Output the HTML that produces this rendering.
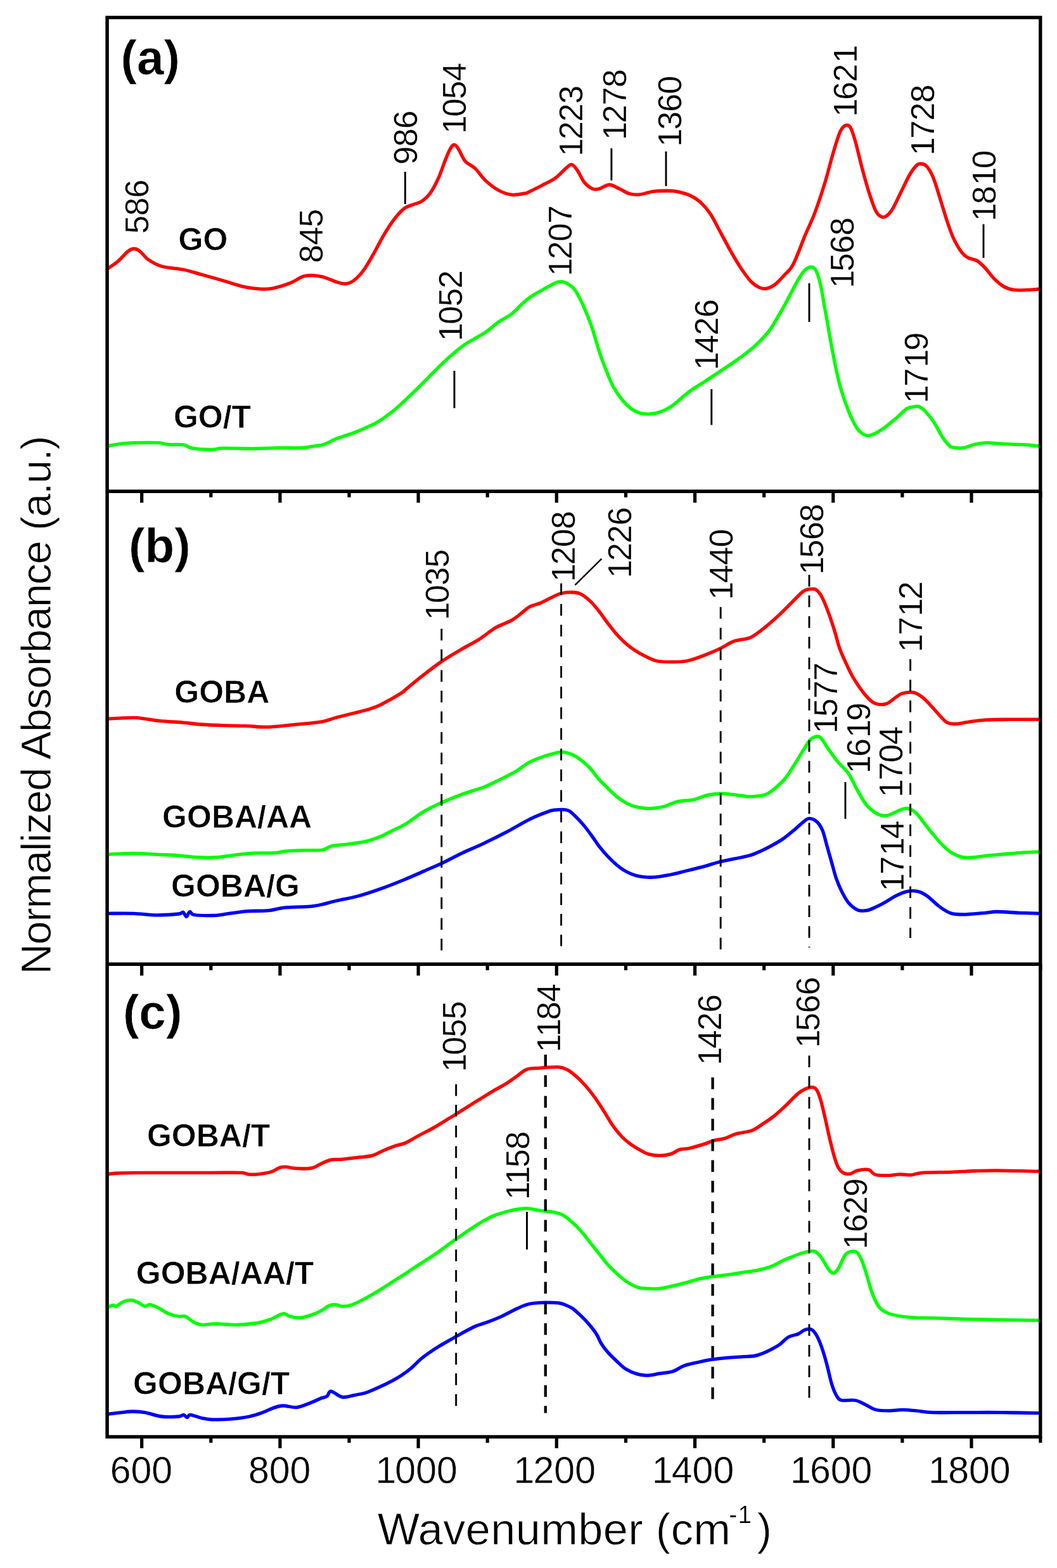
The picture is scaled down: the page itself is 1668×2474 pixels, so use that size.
<!DOCTYPE html>
<html lang="en"><head><meta charset="utf-8"><title>FTIR spectra</title>
<style>
html,body{margin:0;padding:0;background:#fff;}
svg{display:block;}
text{font-family:"Liberation Sans",Arial,Helvetica,sans-serif;fill:#000;}
.b{font-weight:bold;stroke:#fff;stroke-width:0.6px;}
.t{stroke:#fff;stroke-width:0.8px;}
.k{stroke:#fff;stroke-width:0.5px;}
.v{stroke:#fff;stroke-width:0.3px;}
</style></head><body>
<svg width="1668" height="2474" viewBox="0 0 1668 2474">
<rect x="0" y="0" width="1668" height="2474" fill="#fff"/>
<g fill="none" stroke-linejoin="round" stroke-linecap="butt" stroke-width="5.3">
<path stroke="#ff0000" d="M169.1 424.4C171.9 422.4 180.7 416.9 186.2 412.2C191.7 407.5 197.9 399.5 202.1 396.3C206.4 393 208.6 392.5 211.7 392.5C214.8 392.5 217 393.4 220.7 396.3C224.5 399.1 228.3 405.6 234 409.6C239.8 413.5 246 417.5 255.3 420.2C264.6 422.9 279.2 423.3 289.9 425.5C300.5 427.7 308.9 430.7 319.1 433.5C329.3 436.3 340.4 439.4 351 442.5C361.7 445.6 373.2 449.9 383 452.1C392.7 454.3 401.6 455.4 409.6 455.8C417.5 456.3 422.9 456.3 430.8 454.8C438.8 453.3 449.4 449.9 457.4 446.8C465.4 443.7 472.5 438.2 478.7 436.1C484.9 434.1 489.3 434.4 494.7 434.6C500 434.7 504.4 435.4 510.6 437.2C516.8 439 526.1 443.4 531.9 445.2C537.6 447 540.8 448.3 545.2 447.8C549.6 447.4 553.6 446.3 558.5 442.5C563.4 438.8 569.1 432.8 574.4 425.5C579.8 418.2 585.1 408.2 590.4 398.9C595.7 389.6 601 378.5 606.4 369.7C611.7 360.8 617 352.6 622.3 345.7C627.6 338.9 633.4 332.5 638.3 328.7C643.1 324.9 647.1 324.6 651.6 322.9C656 321.1 660.4 320.9 664.9 318.1C669.3 315.2 673.7 311.9 678.2 305.8C682.6 299.8 687 291.7 691.5 281.9C695.9 272.1 701.2 255.7 704.8 247.3C708.3 238.9 710.5 234.5 712.7 231.4C714.9 228.3 716.1 227.8 718 228.7C720 229.6 721.8 232.4 724.4 236.7C727.1 240.9 729.8 249.4 734 254.2C738.3 259.1 744.6 260.9 750 265.9C755.3 271 759.7 278.8 765.9 284.6C772.1 290.3 780.1 296.7 787.2 300.5C794.3 304.3 801.4 306.7 808.5 307.4C815.6 308.1 825.5 305.5 829.7 304.8C834 304.1 829.7 305.2 834 303.2C838.3 301.1 848.2 296.3 855.3 292.5C862.4 288.8 870.3 285.3 876.6 280.8C882.8 276.4 888.3 269.5 892.5 265.9C896.8 262.4 899 259.1 902.1 259.6C905.2 260 907.8 264 911.1 268.6C914.4 273.2 917.8 282.3 921.8 287.2C925.8 292.1 931.1 296.1 935.1 297.9C939 299.6 941.3 298.9 945.7 297.9C950.1 296.8 956.3 291.5 961.7 291.5C967 291.5 972.3 295.5 977.6 297.9C982.9 300.3 988.2 304.3 993.6 305.8C998.9 307.3 1003.3 307.5 1009.5 306.9C1015.7 306.3 1023.7 303.1 1030.8 302.1C1037.9 301.1 1045.9 301 1052.1 301C1058.3 301 1061.8 300.9 1068 302.1C1074.2 303.4 1083.1 305.7 1089.3 308.5C1095.5 311.3 1099.9 314.3 1105.3 319.1C1110.6 324 1115.9 329.8 1121.2 337.7C1126.5 345.7 1131.9 357.3 1137.2 367C1142.5 376.8 1147.8 386.9 1153.1 396.3C1158.5 405.6 1163.8 414.9 1169.1 422.9C1174.4 430.8 1180.2 439 1185 444.1C1189.9 449.3 1194.4 451.8 1198.3 453.7C1202.3 455.6 1205 456 1209 455.3C1213 454.6 1217.4 453.1 1222.3 449.4C1227.2 445.8 1233.4 438.8 1238.2 433.5C1243.1 428.2 1246.2 427.7 1251.5 417.5C1256.9 407.3 1264.4 386.1 1270.1 372.3C1275.9 358.6 1280.8 349.3 1286.1 335.1C1291.4 320.9 1297.2 303.2 1302.1 287.2C1306.9 271.3 1311.4 252.6 1315.4 239.3C1319.3 226.1 1322.9 214.4 1326 207.4C1329.1 200.5 1331.3 198.9 1334 197.9C1336.6 196.8 1339.3 196.8 1342 201.1C1344.6 205.3 1346.8 212.6 1349.9 223.4C1353 234.2 1357 252.6 1360.6 265.9C1364.1 279.2 1367.7 292.1 1371.2 303.2C1374.8 314.3 1378.7 326 1381.8 332.4C1384.9 338.8 1387.2 340 1389.8 341.5C1392.5 343 1394.7 343.4 1397.8 341.5C1400.9 339.5 1404.4 336.2 1408.4 329.8C1412.4 323.4 1417.3 312 1421.7 303.2C1426.2 294.3 1431 283.5 1435 276.6C1439 269.7 1442.8 264.7 1445.7 261.7C1448.5 258.7 1449.4 258.5 1452.1 258.5C1454.7 258.5 1458.3 258.2 1461.6 261.7C1465 265.1 1468.7 271 1472.3 279.2C1475.8 287.5 1479.4 300.1 1482.9 311.2C1486.4 322.2 1490 335.1 1493.5 345.7C1497.1 356.4 1500.2 366.3 1504.2 375C1508.2 383.7 1513.5 392.5 1517.5 397.9C1521.5 403.2 1524.1 404.7 1528.1 406.9C1532.1 409.1 1537 408.5 1541.4 411.1C1545.8 413.8 1550.3 418.2 1554.7 422.9C1559.1 427.5 1563.1 433.9 1568 438.8C1572.9 443.7 1578.6 449 1584 452.1C1589.3 455.2 1593.7 456.5 1599.9 457.4C1606.1 458.3 1614.2 457.7 1621.2 457.4C1628.2 457.2 1638.4 456.1 1641.8 455.8"/>
<path stroke="#00ff00" d="M169.1 704C171.9 703.5 178.9 701.7 186.2 700.8C193.4 700 202.1 699.1 212.8 698.7C223.4 698.4 241.1 698.3 250 698.7C258.9 699.2 259.3 700.8 265.9 701.4C272.6 701.9 283.7 700.9 289.9 701.9C296.1 702.9 295.6 706 303.2 707.2C310.7 708.5 327.1 709.4 335.1 709.4C343.1 709.4 340.4 707.5 351 707.2C361.7 707 383.8 707.9 398.9 707.8C414 707.7 429.1 706.9 441.5 706.7C453.9 706.5 464.5 707.1 473.4 706.7C482.2 706.3 488.5 704.9 494.7 704C500.9 703.2 504.4 703.4 510.6 701.4C516.8 699.3 524.3 694.8 531.9 691.8C539.5 688.9 548.4 686.5 556 683.7C563.6 680.8 570.2 678.1 577.3 674.8C584.4 671.6 590.3 669.5 598.6 664.2C606.8 658.9 617.5 650.9 626.9 642.9C636.4 634.9 647 624.3 655.3 616.3C663.6 608.3 669.5 602.1 676.6 595C683.7 587.9 691.3 580 697.8 573.8C704.3 567.5 709.7 562.8 715.6 557.8C721.5 552.8 726.8 548 733.3 543.6C739.8 539.2 748.7 534.7 754.6 531.2C760.5 527.7 763.4 526.2 768.8 522.3C774.1 518.5 780 512.7 786.5 508.2C793 503.6 801.3 500.1 807.8 495C814.3 490 820.2 482.7 825.5 478C830.8 473.3 834.4 470.2 839.7 466.7C845 463.1 851.5 460 857.4 456.7C863.3 453.4 870.7 448.9 875.1 446.8C879.6 444.7 881 444.4 884 444.3C887 444.2 889.3 444.3 892.9 446.1C896.4 447.9 901.7 451.1 905.3 455C908.8 458.8 910.9 462.9 914.1 469.1C917.4 475.4 921.2 483.6 924.8 492.2C928.3 500.8 931.9 509.9 935.4 520.6C939 531.2 942.5 545.4 946.1 556C949.6 566.7 953.1 575.5 956.7 584.4C960.2 593.3 963.2 601.5 967.3 609.2C971.5 616.9 976.8 624.6 981.5 630.5C986.2 636.4 991 641.1 995.7 644.7C1000.4 648.2 1005.1 650.3 1009.9 651.8C1014.6 653.2 1019.3 653.3 1024.1 653.2C1028.8 653.1 1033.5 652.4 1038.2 651.1C1043 649.8 1047.7 647.9 1052.4 645.4C1057.2 642.8 1061.9 639.5 1066.6 635.8C1071.3 632.1 1076.1 627.2 1080.8 623.4C1085.5 619.6 1089.8 616.3 1095 612.8C1100.2 609.2 1105.6 606.3 1112 602.1C1118.4 598 1126.2 592.7 1133.3 587.9C1140.4 583.2 1147.5 578.7 1154.6 573.8C1161.6 568.8 1169.3 563.5 1175.8 558.5C1182.3 553.5 1187.1 549.9 1193.6 543.6C1200.1 537.3 1207.7 530.3 1214.8 520.6C1221.9 510.8 1230.2 495.4 1236.1 485.1C1242 474.8 1246.2 466.2 1250.3 458.5C1254.4 450.8 1257.7 444.3 1260.9 439C1264.2 433.7 1266.8 429.5 1269.8 426.6C1272.7 423.6 1276 421.7 1278.7 421.3C1281.3 420.9 1283.7 421.7 1285.8 424.1C1287.8 426.5 1289.3 430 1291.1 435.5C1292.8 440.9 1294.8 449.1 1296.4 456.7C1298 464.4 1299.2 473.3 1300.6 481.6C1302.1 489.8 1303.8 498.1 1305.3 506.4C1306.7 514.7 1308 522.9 1309.5 531.2C1311 539.5 1312.5 547.5 1314.1 556C1315.8 564.6 1317.7 574.3 1319.4 582.6C1321.2 590.9 1322.7 598 1324.8 605.7C1326.8 613.3 1329.5 621.6 1331.8 628.7C1334.2 635.8 1336.6 642.3 1338.9 648.2C1341.3 654.1 1343.7 659.4 1346 664.2C1348.4 668.9 1350.8 673.3 1353.1 676.6C1355.5 679.8 1357.9 681.9 1360.2 683.7C1362.6 685.4 1364.9 686.7 1367.3 687.2C1369.7 687.7 1372 687.1 1374.4 686.5C1376.8 685.9 1377.9 685.6 1381.5 683.7C1385 681.7 1390.4 678.7 1395.7 674.8C1401 671 1407.5 665.6 1413.4 660.6C1419.3 655.6 1426.4 647.8 1431.1 644.7C1435.9 641.5 1438.8 642.4 1441.8 641.8C1444.7 641.2 1446.8 640.8 1448.9 641.1C1450.9 641.5 1452.4 642.8 1454.2 644C1456 645.1 1456.2 644.6 1459.5 648.2C1462.8 651.9 1469 658.9 1473.7 665.9C1478.4 673 1484 684.9 1487.9 690.8C1491.7 696.7 1494.4 698.9 1496.7 701.4C1499.1 703.9 1498.2 704.8 1502.1 705.7C1505.9 706.5 1513.9 707.4 1519.8 706.7C1525.7 706 1531.6 702.8 1537.5 701.4C1543.4 700 1549.3 698.9 1555.2 698.6C1561.1 698.3 1567.1 699.3 1573 699.6C1578.9 700 1584.8 700.4 1590.7 700.7C1596.6 701 1602.5 701.1 1608.4 701.4C1614.3 701.7 1620.6 702 1626.2 702.5C1631.7 702.9 1639.2 703.9 1641.8 704.2"/>
<path stroke="#ff0000" d="M169.1 1134.1C176.1 1133.8 201 1132.3 210.9 1132.3C220.8 1132.3 221.6 1133.2 228.6 1134.1C235.7 1135 243.4 1136.6 253.5 1137.6C263.5 1138.6 278.3 1139.2 288.9 1140.1C299.6 1141 306.7 1142.2 317.3 1143C327.9 1143.7 340.9 1144.3 352.8 1144.7C364.6 1145.1 377 1145 388.2 1145.4C399.4 1145.9 409.5 1147.3 420.1 1147.2C430.8 1147.1 442.6 1145.6 452 1144.7C461.5 1143.9 467.4 1143.3 476.9 1142.2C486.3 1141.2 499.9 1140.4 508.8 1138.7C517.6 1137 521.8 1134.6 530.1 1132.3C538.3 1130.1 549.6 1127.5 558.4 1125.2C567.3 1123 576.1 1121.1 583.2 1118.8C590.3 1116.6 595.1 1114.5 601 1111.8C606.9 1109 612.8 1105.5 618.7 1102.2C624.6 1098.8 632.9 1093.9 636.4 1091.5C640 1089.2 634.7 1092.4 640 1088C645.3 1083.6 658.9 1072.3 668.4 1064.9C677.8 1057.6 686.7 1050.5 696.7 1043.7C706.8 1036.9 718.6 1030.1 728.6 1024.2C738.7 1018.3 748.2 1013.8 757 1008.2C765.9 1002.6 773.6 995.3 781.8 990.5C790.1 985.6 800.2 982.7 806.7 979.1C813.2 975.6 816.1 972.8 820.8 969.2C825.6 965.7 829.7 960.8 835 957.9C840.3 954.9 846.8 954 852.8 951.5C858.7 948.9 865 945.2 870.5 942.6C875.9 940.1 880.1 937.6 885.4 936.2C890.7 934.9 897.2 934.3 902.4 934.5C907.6 934.6 911.9 935.1 916.6 937.3C921.3 939.5 926 943.5 930.8 947.9C935.5 952.4 940.2 958 944.9 963.9C949.7 969.8 954.4 977.2 959.1 983.4C963.9 989.6 968.6 995.8 973.3 1001.1C978 1006.4 982.8 1011.2 987.5 1015.3C992.2 1019.4 996.4 1022.5 1001.7 1025.9C1007 1029.4 1013.5 1033 1019.4 1035.9C1025.3 1038.7 1030.6 1041.5 1037.1 1043C1043.6 1044.4 1050.7 1044.4 1058.4 1044.4C1066.1 1044.4 1074.3 1044.7 1083.2 1043C1092.2 1041.2 1103.1 1037.1 1112 1033.7C1120.9 1030.4 1129.1 1026.8 1136.8 1023.1C1144.5 1019.4 1150.4 1014.5 1158.1 1011.8C1165.8 1009 1176.4 1008.8 1182.9 1006.4C1189.4 1004.1 1191.8 1001.4 1197.1 997.6C1202.4 993.7 1208.9 988.4 1214.8 983.4C1220.7 978.4 1226.7 973.1 1232.6 967.4C1238.5 961.8 1245 955 1250.3 949.7C1255.6 944.4 1260.9 938.7 1264.5 935.5C1268 932.4 1269.2 931.9 1271.6 930.9C1273.9 929.9 1276 929.6 1278.7 929.5C1281.3 929.4 1284.6 928.3 1287.5 930.2C1290.5 932.1 1293.1 934.9 1296.4 940.8C1299.6 946.8 1303.5 956.2 1307 965.7C1310.6 975.1 1314.7 988.1 1317.7 997.6C1320.6 1007 1321.8 1014.1 1324.8 1022.4C1327.7 1030.7 1331.8 1039.5 1335.4 1047.2C1338.9 1054.9 1341.9 1061.4 1346 1068.5C1350.2 1075.6 1355.5 1083.6 1360.2 1089.8C1364.9 1096 1370.3 1102.2 1374.4 1105.7C1378.5 1109.3 1380.9 1110.3 1385 1111C1389.2 1111.8 1394.5 1112.1 1399.2 1110.3C1403.9 1108.6 1409.3 1103.1 1413.4 1100.4C1417.5 1097.7 1419.3 1095.3 1424 1094C1428.8 1092.7 1436.5 1091.5 1441.8 1092.6C1447.1 1093.7 1451.2 1096.7 1456 1100.4C1460.7 1104.1 1465.4 1109.6 1470.1 1114.6C1474.9 1119.6 1480.2 1126.3 1484.3 1130.5C1488.5 1134.8 1490.8 1138.2 1495 1140.1C1499.1 1142.1 1503.8 1142.4 1509.1 1142.2C1514.5 1142.1 1519.2 1140.5 1526.9 1139.4C1534.6 1138.3 1544.6 1136.6 1555.2 1135.9C1565.9 1135.2 1576.3 1135.3 1590.7 1135.2C1605.1 1135 1633.3 1135.2 1641.8 1135.2"/>
<path stroke="#00ff00" d="M169.1 1348.1C176.1 1347.8 198 1346.3 210.9 1346.3C223.8 1346.3 234.6 1347.5 246.4 1348.1C258.2 1348.7 271.2 1349.1 281.8 1349.8C292.5 1350.6 300.2 1352.2 310.2 1352.7C320.3 1353.2 332.1 1353.3 342.1 1352.7C352.2 1352.1 361.6 1350.2 370.5 1349.1C379.3 1348.1 384.7 1346.9 395.3 1346.3C405.9 1345.7 424.9 1346.2 434.3 1345.6C443.8 1345 444.4 1343.4 452 1342.8C459.7 1342.1 471 1342 480.4 1341.7C489.9 1341.4 501.7 1342.1 508.8 1341C515.9 1339.9 516.5 1336.4 523 1335C529.5 1333.5 538.9 1333.3 547.8 1332.1C556.6 1330.9 567.3 1329.9 576.1 1327.9C585 1325.8 593.9 1322.5 601 1319.7C608.1 1316.9 612.2 1314.1 618.7 1310.8C625.2 1307.6 631.7 1305.2 640 1300.2C648.3 1295.2 658.9 1286.3 668.4 1280.7C677.8 1275.1 686.7 1271.1 696.7 1266.5C706.8 1262 717.4 1257.5 728.6 1253.4C739.9 1249.3 754.1 1245.6 764.1 1241.7C774.2 1237.8 780.7 1234.1 788.9 1230C797.2 1225.9 806.1 1221.7 813.8 1217.2C821.4 1212.7 827.3 1207.1 835 1203C842.7 1199 851.5 1195.8 859.8 1193.1C868.2 1190.4 878.3 1187.2 885.4 1186.7C892.5 1186.3 897.2 1188.2 902.4 1190.3C907.6 1192.3 911.9 1195.6 916.6 1199.1C921.3 1202.7 926 1206.5 930.8 1211.6C935.5 1216.6 940.2 1224 944.9 1229.3C949.7 1234.6 954.4 1238.9 959.1 1243.5C963.9 1248.1 968.6 1253.1 973.3 1256.9C978 1260.8 982.8 1263.9 987.5 1266.5C992.2 1269.1 996.4 1271.1 1001.7 1272.5C1007 1274 1014.7 1274.9 1019.4 1275.4C1024.1 1275.9 1025.3 1275.9 1030.1 1275.4C1034.8 1274.9 1041.3 1274.3 1047.8 1272.5C1054.3 1270.8 1061.4 1266.5 1069.1 1264.7C1076.7 1263 1086.7 1263.4 1093.9 1261.9C1101 1260.4 1106.6 1257.4 1112 1255.9C1117.4 1254.4 1120.9 1253.6 1126.2 1253C1131.5 1252.5 1137.4 1252 1143.9 1252.3C1150.4 1252.6 1158.7 1254 1165.2 1254.8C1171.7 1255.6 1177.6 1256.8 1182.9 1256.9C1188.2 1257.1 1192.4 1256.6 1197.1 1255.9C1201.8 1255.1 1206.6 1254.7 1211.3 1252.3C1216 1250 1220.7 1245.8 1225.5 1241.7C1230.2 1237.6 1234.9 1233.4 1239.7 1227.5C1244.4 1221.6 1249.1 1213.6 1253.8 1206.2C1258.6 1198.8 1263.9 1189.7 1268 1183.2C1272.2 1176.7 1275.1 1170.8 1278.7 1167.2C1282.2 1163.7 1286.3 1162.2 1289.3 1161.9C1292.3 1161.6 1293.4 1162.2 1296.4 1165.5C1299.3 1168.7 1302.9 1175.5 1307 1181.4C1311.2 1187.3 1315.9 1194.4 1321.2 1200.9C1326.5 1207.4 1333.6 1212.7 1338.9 1220.4C1344.3 1228.1 1348.4 1238.7 1353.1 1247C1357.9 1255.3 1362.6 1264.2 1367.3 1270.1C1372 1276 1377.4 1279.7 1381.5 1282.5C1385.6 1285.3 1388.6 1286.1 1392.1 1286.7C1395.7 1287.3 1398.6 1287.2 1402.8 1286C1406.9 1284.8 1412.2 1281.4 1416.9 1279.6C1421.7 1277.9 1426.4 1274.9 1431.1 1275.4C1435.9 1275.9 1440.6 1278.3 1445.3 1282.5C1450 1286.6 1454.8 1294.3 1459.5 1300.2C1464.2 1306.1 1469 1312.3 1473.7 1317.9C1478.4 1323.5 1483.1 1329.3 1487.9 1333.9C1492.6 1338.5 1496.7 1342.5 1502.1 1345.6C1507.4 1348.7 1513.9 1351.5 1519.8 1352.7C1525.7 1353.9 1531 1353.2 1537.5 1352.7C1544 1352.2 1551.7 1350.6 1558.8 1349.8C1565.9 1349.1 1571.8 1348.8 1580.1 1348.1C1588.3 1347.4 1598.1 1346.3 1608.4 1345.6C1618.7 1344.9 1636.2 1344.1 1641.8 1343.8"/>
<path stroke="#0000ff" d="M169.1 1441.3C176.1 1441.3 198 1440.9 210.9 1441.3C223.8 1441.7 234.6 1443.7 246.4 1443.8C258.2 1443.9 274.7 1442.8 281.8 1442C288.9 1441.3 286.9 1438.5 288.9 1439.2C291 1439.9 292.5 1446.4 294.2 1446.3C296 1446.2 297.5 1439 299.6 1438.5C301.6 1438 300.7 1442.5 306.7 1443.5C312.6 1444.5 327.3 1444.6 335 1444.5C342.7 1444.4 343.9 1443.9 352.8 1442.8C361.6 1441.6 376.4 1438.8 388.2 1437.8C400 1436.8 413.6 1437.7 423.7 1436.7C433.7 1435.8 436.7 1433.3 448.5 1432.1C460.3 1430.9 481 1431.4 494.6 1429.6C508.2 1427.9 518.2 1424.1 530.1 1421.5C541.9 1418.8 553.7 1416.9 565.5 1413.7C577.3 1410.5 588.6 1406.8 601 1402.3C613.4 1397.9 628.8 1391.7 640 1387.1C651.2 1382.5 658.9 1378.8 668.4 1374.7C677.8 1370.5 686.7 1367 696.7 1362.3C706.8 1357.5 717.4 1351.6 728.6 1346.3C739.9 1341 752.3 1336 764.1 1330.3C775.9 1324.7 787.7 1318.8 799.6 1312.6C811.4 1306.4 825 1298.1 835 1293.1C845.1 1288.1 853.3 1285 859.8 1282.5C866.3 1280 868.1 1278.9 874 1278.2C879.9 1277.5 890 1276.9 895.3 1278.2C900.6 1279.5 901.8 1282.2 905.9 1286C910.1 1289.8 915.4 1295.4 920.1 1300.9C924.9 1306.5 930.2 1313.7 934.3 1319.4C938.4 1325 940.8 1329.3 944.9 1334.6C949.1 1339.9 954.4 1346.2 959.1 1351.3C963.9 1356.3 968.6 1360.8 973.3 1364.7C978 1368.6 982.2 1371.8 987.5 1374.7C992.8 1377.5 998.1 1380.2 1005.2 1381.8C1012.3 1383.4 1021.2 1384.5 1030.1 1384.2C1038.9 1383.9 1049.6 1381.7 1058.4 1380C1067.3 1378.3 1074.3 1376.1 1083.2 1374C1092.2 1371.8 1103.7 1369.1 1112 1366.9C1120.3 1364.6 1125.6 1362.4 1133.3 1360.5C1141 1358.5 1149.8 1356.9 1158.1 1355.2C1166.4 1353.4 1175.8 1351.9 1182.9 1349.8C1190 1347.8 1194.7 1345.4 1200.6 1342.8C1206.6 1340.1 1212.5 1337.1 1218.4 1333.9C1224.3 1330.6 1230.2 1327.4 1236.1 1323.3C1242 1319.1 1248.5 1313.5 1253.8 1309.1C1259.2 1304.6 1264.2 1299.6 1268 1296.7C1271.9 1293.7 1273.3 1291.3 1276.9 1291.3C1280.4 1291.3 1285.8 1293.4 1289.3 1296.7C1292.8 1299.9 1295.5 1304.3 1298.2 1310.8C1300.8 1317.3 1302.9 1327.4 1305.3 1335.7C1307.6 1343.9 1310 1352.2 1312.3 1360.5C1314.7 1368.8 1316.8 1377.6 1319.4 1385.3C1322.1 1393 1325.1 1400.1 1328.3 1406.6C1331.6 1413.1 1334.8 1419.5 1338.9 1424.3C1343.1 1429.2 1348.4 1433.6 1353.1 1435.7C1357.9 1437.7 1362.6 1437.4 1367.3 1436.7C1372 1436 1376.8 1433.5 1381.5 1431.4C1386.2 1429.3 1390.4 1427.3 1395.7 1424.3C1401 1421.4 1407.5 1416.6 1413.4 1413.7C1419.3 1410.7 1425.2 1407.8 1431.1 1406.6C1437 1405.4 1443.5 1405.4 1448.9 1406.6C1454.2 1407.8 1458.3 1410.4 1463 1413.7C1467.8 1416.9 1473.1 1422.7 1477.2 1426.1C1481.4 1429.5 1483.7 1431.7 1487.9 1434.2C1492 1436.8 1496.1 1439.9 1502.1 1441.3C1508 1442.8 1514.5 1442.9 1523.3 1442.8C1532.2 1442.6 1547 1441 1555.2 1440.3C1563.5 1439.6 1564.1 1438.5 1573 1438.5C1581.8 1438.5 1597 1439.8 1608.4 1440.3C1619.9 1440.7 1636.2 1441.2 1641.8 1441.3"/>
<path stroke="#ff0000" d="M169.1 1852.8C171.9 1852.5 176.2 1851.5 186.1 1851C196 1850.6 212.7 1850.5 228.6 1850.3C244.6 1850.2 264.1 1850.3 281.8 1850.3C299.6 1850.3 318.5 1850.3 335 1850.3C351.6 1850.3 371.7 1849.9 381.1 1850.3C390.6 1850.8 387.6 1852.4 391.8 1852.8C395.9 1853.2 400 1853.4 405.9 1852.8C411.9 1852.2 421.3 1851 427.2 1849.3C433.1 1847.5 437.3 1843.5 441.4 1842.2C445.5 1840.8 448.5 1840.9 452 1841.1C455.6 1841.3 458 1842.8 462.7 1843.2C467.4 1843.7 475.1 1844.1 480.4 1844C485.7 1843.8 489.9 1843.7 494.6 1842.2C499.3 1840.7 504 1837.2 508.8 1835.1C513.5 1833 517.6 1830.8 523 1829.8C528.3 1828.8 533.6 1829.7 540.7 1829.1C547.8 1828.5 557.8 1827.2 565.5 1826.2C573.2 1825.3 580.3 1825.2 586.8 1823.4C593.3 1821.6 598.6 1818.1 604.5 1815.6C610.4 1813.1 616.3 1810.6 622.2 1808.5C628.2 1806.4 633.5 1806 640 1803.2C646.5 1800.3 653.6 1795.6 661.3 1791.5C669 1787.3 676.6 1783.8 686.1 1778.4C695.6 1772.9 708 1765.1 718 1758.9C728.1 1752.6 736.9 1747 746.4 1741.1C755.8 1735.2 765.9 1728.7 774.7 1723.4C783.6 1718.1 792.5 1713.6 799.6 1709.2C806.7 1704.8 812 1700.5 817.3 1696.8C822.6 1693.1 825.6 1689.2 831.5 1687.2C837.4 1685.3 844.5 1685.7 852.8 1685.1C861 1684.5 874 1683.2 881.1 1683.7C888.2 1684.2 890.6 1685.5 895.3 1687.9C900 1690.4 904.8 1694.4 909.5 1698.6C914.2 1702.7 918.9 1707.4 923.7 1712.8C928.4 1718.1 933.1 1724 937.9 1730.5C942.6 1737 947.3 1744.4 952 1751.8C956.8 1759.1 961.5 1768 966.2 1774.8C971 1781.6 975.7 1787.5 980.4 1792.5C985.1 1797.6 989.9 1801.4 994.6 1804.9C999.3 1808.5 1004 1811.2 1008.8 1813.8C1013.5 1816.5 1017.6 1819.3 1023 1820.9C1028.3 1822.5 1034.8 1823.4 1040.7 1823.4C1046.6 1823.4 1053.1 1822.5 1058.4 1820.9C1063.7 1819.3 1067.9 1815.3 1072.6 1813.8C1077.3 1812.3 1080.2 1813.5 1086.8 1812C1093.4 1810.6 1105.4 1807 1112 1804.9C1118.6 1802.9 1120.9 1801.1 1126.2 1799.6C1131.5 1798.2 1138 1797.9 1143.9 1796.1C1149.8 1794.3 1154.6 1791.1 1161.6 1789C1168.7 1786.9 1179.4 1786.3 1186.5 1783.7C1193.6 1781 1198.3 1776.9 1204.2 1773C1210.1 1769.2 1216 1765.4 1221.9 1760.6C1227.8 1755.9 1234.3 1749.7 1239.7 1744.7C1245 1739.6 1249.7 1734.3 1253.8 1730.5C1258 1726.6 1260.3 1724.1 1264.5 1721.6C1268.6 1719.1 1274.8 1716.2 1278.7 1715.6C1282.5 1715 1284.9 1715 1287.5 1718.1C1290.2 1721.1 1292.3 1726.6 1294.6 1734C1297 1741.4 1299.3 1752.4 1301.7 1762.4C1304.1 1772.4 1306.4 1784.3 1308.8 1794.3C1311.2 1804.4 1313.5 1814.7 1315.9 1822.7C1318.3 1830.7 1320.3 1837.5 1323 1842.2C1325.6 1846.9 1328.6 1849.5 1331.8 1851C1335.1 1852.6 1338.9 1852.5 1342.5 1851.8C1346 1851 1348.4 1847.8 1353.1 1846.8C1357.9 1845.8 1366.1 1844.6 1370.9 1845.7C1375.6 1846.8 1376.2 1852.1 1381.5 1853.5C1386.8 1855 1396.3 1854.7 1402.8 1854.6C1409.3 1854.5 1414.6 1852.9 1420.5 1852.8C1426.4 1852.7 1432.3 1854.3 1438.2 1853.9C1444.1 1853.5 1445.3 1851.1 1456 1850.3C1466.6 1849.6 1488.5 1849.7 1502.1 1849.3C1515.6 1848.8 1525.7 1847.9 1537.5 1847.5C1549.3 1847.1 1555.6 1846.7 1573 1846.8C1590.4 1846.9 1630.3 1848 1641.8 1848.2"/>
<path stroke="#00ff00" d="M169.1 2063.2C170.6 2062.6 175.8 2059.8 178.2 2059.5C180.6 2059.1 180.8 2061.9 183.5 2061.1C186.2 2060.2 190.1 2055.7 194.1 2054.1C198.1 2052.5 203.4 2051.3 207.4 2051.5C211.4 2051.7 214.5 2053.6 218.1 2055.2C221.6 2056.8 225.6 2060.5 228.7 2061.1C231.8 2061.6 233.1 2058 236.7 2058.4C240.2 2058.8 245.1 2061.3 250 2063.7C254.9 2066.1 260.6 2070.5 265.9 2072.8C271.3 2075 277.5 2076.3 281.9 2077C286.3 2077.7 288.5 2075.5 292.5 2077C296.5 2078.5 301.4 2083.8 305.8 2086.1C310.3 2088.3 313.4 2089.9 319.1 2090.3C324.9 2090.8 331.5 2088.7 340.4 2088.7C349.3 2088.7 361.7 2090.5 372.3 2090.3C383 2090.1 395.4 2089 404.2 2087.6C413.1 2086.3 419.3 2084.5 425.5 2082.3C431.7 2080.1 437.5 2075.9 441.5 2074.4C445.5 2072.8 446.8 2072.3 449.4 2072.8C452.1 2073.2 453.4 2075.9 457.4 2077C461.4 2078.1 468.1 2079.4 473.4 2079.1C478.7 2078.9 484 2077.1 489.3 2075.4C494.7 2073.7 500.4 2071.5 505.3 2069C510.2 2066.5 514.6 2062.3 518.6 2060.5C522.6 2058.7 525.7 2058.3 529.2 2058.4C532.8 2058.5 535.9 2060.9 539.9 2061.1C543.9 2061.2 548.3 2060.9 553.2 2059.5C558 2058 562.9 2055.6 569.1 2052.5C575.3 2049.4 583.3 2045 590.4 2040.8C597.5 2036.7 603.4 2032.8 611.7 2027.5C619.9 2022.3 631.7 2014.8 640 2009.4C648.3 2004 653.6 2000.3 661.3 1995.2C669 1990.2 676.6 1985.8 686.1 1979.3C695.6 1972.8 708 1963.3 718 1956.2C728.1 1949.1 737.5 1942.5 746.4 1936.7C755.2 1931 763.5 1925.7 771.2 1921.8C778.9 1918 786 1915.8 792.5 1913.7C799 1911.6 803.7 1910.3 810.2 1909.1C816.7 1907.9 824.4 1906.4 831.5 1906.6C838.6 1906.8 845.7 1909.1 852.8 1910.1C859.8 1911.1 868.1 1911.4 874 1912.6C879.9 1913.8 883.5 1914.7 888.2 1917.2C892.9 1919.8 897.7 1923.7 902.4 1927.9C907.1 1932 911.9 1936.7 916.6 1942.1C921.3 1947.4 926 1953.9 930.8 1959.8C935.5 1965.7 940.2 1971.6 944.9 1977.5C949.7 1983.4 954.4 1989.9 959.1 1995.2C963.9 2000.6 968.6 2005.1 973.3 2009.4C978 2013.7 982.2 2017.6 987.5 2021.1C992.8 2024.7 999.3 2028.7 1005.2 2030.7C1011.1 2032.7 1017 2032.8 1023 2033.2C1028.9 2033.6 1034.2 2033.9 1040.7 2033.2C1047.2 2032.5 1054.9 2030.5 1062 2028.9C1069.1 2027.3 1076.1 2025.5 1083.2 2023.6C1090.3 2021.7 1097.4 2019.2 1104.5 2017.6C1111.6 2016 1118.1 2015.1 1125.8 2014C1133.5 2013 1142.9 2012.3 1150.6 2011.2C1158.3 2010.1 1164.3 2008.8 1171.9 2007.7C1179.5 2006.5 1188.5 2005.7 1196 2004.1C1203.5 2002.5 1209.9 2001 1217 1998.3C1224 1995.5 1232 1990.5 1238.2 1987.7C1244.4 1984.8 1248.9 1983.2 1254.2 1981.3C1259.5 1979.3 1264.8 1977.1 1270.1 1976C1275.5 1974.8 1281.7 1972.8 1286.1 1974.4C1290.5 1975.9 1293.2 1980.3 1296.7 1985C1300.3 1989.7 1304.3 1998.6 1307.4 2002.5C1310.5 2006.5 1312.7 2009.2 1315.4 2008.9C1318 2008.7 1320.2 2005.8 1323.3 2001C1326.4 1996.1 1330.4 1984.1 1334 1979.7C1337.5 1975.2 1341.5 1975 1344.6 1974.4C1347.7 1973.7 1349.9 1973.3 1352.6 1976C1355.2 1978.6 1357.9 1983.9 1360.6 1990.3C1363.2 1996.7 1365.9 2005.8 1368.5 2014.2C1371.2 2022.7 1373.4 2032.9 1376.5 2040.8C1379.6 2048.8 1383.2 2057 1387.2 2062.1C1391.2 2067.3 1395.1 2069.3 1400.5 2071.7C1405.8 2074.1 1411.5 2075.2 1419.1 2076.5C1426.6 2077.7 1436.8 2078.6 1445.7 2079.1C1454.5 2079.7 1459 2079.3 1472.3 2079.7C1485.6 2080 1507.7 2080.8 1525.5 2081.3C1543.2 2081.7 1559.3 2082 1578.6 2082.3C1598 2082.7 1631.3 2083.2 1641.8 2083.4"/>
<path stroke="#0000ff" d="M169.1 2231.3C172.8 2230.8 184.6 2229.3 191.5 2228.6C198.3 2227.9 203.9 2227 210.1 2227C216.3 2227 221.2 2227.3 228.7 2228.6C236.2 2229.9 246.4 2233.9 255.3 2235C264.2 2236 276.1 2235.4 281.9 2235C287.7 2234.5 287.7 2232.1 289.9 2232.3C292.1 2232.6 293.4 2236.6 295.2 2236.6C297 2236.6 296.5 2232.1 300.5 2232.3C304.5 2232.5 313.4 2236.4 319.1 2237.6C324.9 2238.9 328 2239.5 335.1 2239.8C342.2 2240 351.9 2240 361.7 2239.2C371.4 2238.4 384.7 2236.8 393.6 2235C402.5 2233.2 408.7 2230.8 414.9 2228.6C421.1 2226.4 425.5 2223.5 430.8 2221.7C436.1 2219.9 440.6 2218.1 446.8 2218C453 2217.8 461 2221.3 468.1 2220.6C475.2 2219.9 483.1 2216 489.3 2213.7C495.5 2211.4 500.9 2208.6 505.3 2206.8C509.7 2205 513.1 2205 515.9 2203.1C518.8 2201.1 518.3 2194.9 522.3 2195.1C526.3 2195.3 533.9 2203.3 540 2204.3C546.1 2205.4 552.8 2202.5 558.9 2201.4C565 2200.3 571 2199.3 576.4 2197.8C581.7 2196.2 586 2194 590.9 2192C595.7 2189.9 600.6 2187.7 605.4 2185.4C610.3 2183.1 615.1 2180.8 620 2178.1C624.8 2175.5 629.7 2172.7 634.5 2169.4C639.4 2166.1 644.2 2162.6 649.1 2158.5C653.9 2154.4 658.8 2148.8 663.6 2144.7C668.4 2140.6 673.3 2137.2 678.1 2133.8C683 2130.4 687.8 2127.3 692.7 2124.3C697.5 2121.4 702.7 2118.5 707.2 2115.9C711.7 2113.3 715.2 2111.4 719.6 2108.9C723.9 2106.5 728.2 2103.8 733.4 2101.1C738.6 2098.3 745.1 2094.8 750.8 2092.3C756.6 2089.9 761.4 2089 768 2086.5C774.6 2084.1 784.3 2080.2 790.2 2077.6C796 2075.1 798.9 2073.3 803.2 2071.1C807.6 2068.9 812.2 2066.5 816.3 2064.5C820.4 2062.6 824.1 2060.8 828 2059.5C831.8 2058.1 834.3 2057.3 839.6 2056.5C844.9 2055.8 852.9 2055.2 859.9 2055.1C867 2055 876.2 2055.1 881.8 2055.8C887.3 2056.5 889.8 2058 893.4 2059.5C897 2060.9 899.9 2062 903.6 2064.5C907.2 2067.1 911.1 2070.8 915.2 2074.7C919.3 2078.6 923.6 2082.7 928 2087.8C932.4 2092.9 938 2099.9 941.4 2105.2C944.8 2110.4 945.5 2114.6 948.5 2119.3C951.4 2124.1 955 2128.8 959.1 2133.5C963.3 2138.3 968.6 2143.3 973.3 2147.7C978 2152.1 982.2 2156.8 987.5 2160.1C992.8 2163.5 999.3 2166.3 1005.2 2167.9C1011.1 2169.6 1017 2170.2 1023 2170.1C1028.9 2169.9 1034.2 2168.3 1040.7 2167.2C1047.2 2166.2 1055.5 2165.7 1062 2163.7C1068.5 2161.6 1073.2 2157.2 1079.7 2154.8C1086.2 2152.4 1093.9 2151.1 1101 2149.5C1108.1 2147.9 1114.6 2146.4 1122.2 2145.2C1129.9 2144.1 1138.8 2143.2 1147.1 2142.4C1155.3 2141.6 1163.7 2141.3 1171.9 2140.6C1180 2139.9 1186.7 2141 1196 2138.1C1205.3 2135.3 1219.7 2128 1227.6 2123.3C1235.5 2118.6 1238.2 2113.1 1243.6 2110C1248.9 2106.9 1255.1 2106.6 1259.5 2104.7C1263.9 2102.7 1266.6 2099.4 1270.1 2098.3C1273.7 2097.1 1277.7 2096.2 1280.8 2097.8C1283.9 2099.3 1286.1 2102.6 1288.8 2107.3C1291.4 2112 1294.1 2118.4 1296.7 2125.9C1299.4 2133.5 1302.1 2142.8 1304.7 2152.5C1307.4 2162.3 1310 2176 1312.7 2184.5C1315.4 2192.9 1318 2198.9 1320.7 2203.1C1323.3 2207.2 1323.8 2208.4 1328.7 2209.5C1333.5 2210.5 1343.7 2208.3 1349.9 2209.5C1356.1 2210.6 1360.6 2213.9 1365.9 2216.4C1371.2 2218.8 1375.6 2222.7 1381.8 2224.3C1388 2225.9 1396 2225.9 1403.1 2225.9C1410.2 2225.9 1417.3 2224.3 1424.4 2224.3C1431.5 2224.3 1437.7 2225.2 1445.7 2225.9C1453.6 2226.6 1459 2228.2 1472.3 2228.6C1485.6 2229 1507.7 2228.6 1525.5 2228.6C1543.2 2228.6 1559.3 2228.4 1578.6 2228.6C1598 2228.8 1631.3 2229.5 1641.8 2229.7"/>
</g>
<g stroke="#000" stroke-width="2.9" fill="none">
<line x1="639.4" y1="271" x2="639.4" y2="322"/>
<line x1="717" y1="585" x2="717" y2="644"/>
<line x1="964.9" y1="234" x2="964.9" y2="284.6"/>
<line x1="1051" y1="239" x2="1051" y2="293.6"/>
<line x1="1122.8" y1="614" x2="1122.8" y2="670.5"/>
<line x1="1277" y1="447" x2="1277" y2="508"/>
<line x1="1552" y1="353.7" x2="1552" y2="407"/>
<line x1="1334" y1="1234" x2="1334" y2="1292"/>
<line x1="831.5" y1="1912" x2="831.5" y2="1971.5"/>
<line x1="907.4" y1="923.2" x2="949.4" y2="881.7" stroke-width="2.4"/>
</g>
<g stroke="#000" stroke-width="2.9" fill="none" stroke-dasharray="18.5 14.1">
<line x1="696.8" y1="992" x2="696.8" y2="1500.6"/>
<line x1="885.6" y1="920.5" x2="885.6" y2="1492.7"/>
<line x1="1137.2" y1="957.8" x2="1137.2" y2="1500.6"/>
<line x1="1277" y1="907" x2="1277" y2="1495"/>
<line x1="1436.6" y1="1040" x2="1436.6" y2="1480"/>
<line x1="719.7" y1="1710.7" x2="719.7" y2="2221.5"/>
<line x1="860.8" y1="1664" x2="860.8" y2="2229.5" stroke-width="4.3"/>
<line x1="1124.6" y1="1700" x2="1124.6" y2="2211" stroke-width="4.3"/>
<line x1="1277" y1="1665.5" x2="1277" y2="2205.7"/>
</g>
<g stroke="#000" fill="none" stroke-width="5.4" stroke-linecap="butt">
<rect x="169.1" y="27.6" width="1472.7" height="2239.4"/>
<line x1="169.1" y1="775.2" x2="1641.8" y2="775.2"/>
<line x1="169.1" y1="1521.3" x2="1641.8" y2="1521.3"/>
<line x1="223.7" y1="775.2" x2="223.7" y2="793.2" stroke-width="5.2"/>
<line x1="332.8" y1="775.2" x2="332.8" y2="784.7" stroke-width="5.2"/>
<line x1="441.9" y1="775.2" x2="441.9" y2="793.2" stroke-width="5.2"/>
<line x1="551" y1="775.2" x2="551" y2="784.7" stroke-width="5.2"/>
<line x1="660.1" y1="775.2" x2="660.1" y2="793.2" stroke-width="5.2"/>
<line x1="769.2" y1="775.2" x2="769.2" y2="784.7" stroke-width="5.2"/>
<line x1="878.3" y1="775.2" x2="878.3" y2="793.2" stroke-width="5.2"/>
<line x1="987.5" y1="775.2" x2="987.5" y2="784.7" stroke-width="5.2"/>
<line x1="1096.6" y1="775.2" x2="1096.6" y2="793.2" stroke-width="5.2"/>
<line x1="1205.7" y1="775.2" x2="1205.7" y2="784.7" stroke-width="5.2"/>
<line x1="1314.8" y1="775.2" x2="1314.8" y2="793.2" stroke-width="5.2"/>
<line x1="1423.9" y1="775.2" x2="1423.9" y2="784.7" stroke-width="5.2"/>
<line x1="1533" y1="775.2" x2="1533" y2="793.2" stroke-width="5.2"/>
<line x1="1641.8" y1="775.2" x2="1641.8" y2="784.7" stroke-width="5.2"/>
<line x1="223.7" y1="1521.3" x2="223.7" y2="1539.3" stroke-width="5.2"/>
<line x1="332.8" y1="1521.3" x2="332.8" y2="1530.8" stroke-width="5.2"/>
<line x1="441.9" y1="1521.3" x2="441.9" y2="1539.3" stroke-width="5.2"/>
<line x1="551" y1="1521.3" x2="551" y2="1530.8" stroke-width="5.2"/>
<line x1="660.1" y1="1521.3" x2="660.1" y2="1539.3" stroke-width="5.2"/>
<line x1="769.2" y1="1521.3" x2="769.2" y2="1530.8" stroke-width="5.2"/>
<line x1="878.3" y1="1521.3" x2="878.3" y2="1539.3" stroke-width="5.2"/>
<line x1="987.5" y1="1521.3" x2="987.5" y2="1530.8" stroke-width="5.2"/>
<line x1="1096.6" y1="1521.3" x2="1096.6" y2="1539.3" stroke-width="5.2"/>
<line x1="1205.7" y1="1521.3" x2="1205.7" y2="1530.8" stroke-width="5.2"/>
<line x1="1314.8" y1="1521.3" x2="1314.8" y2="1539.3" stroke-width="5.2"/>
<line x1="1423.9" y1="1521.3" x2="1423.9" y2="1530.8" stroke-width="5.2"/>
<line x1="1533" y1="1521.3" x2="1533" y2="1539.3" stroke-width="5.2"/>
<line x1="1641.8" y1="1521.3" x2="1641.8" y2="1530.8" stroke-width="5.2"/>
<line x1="223.7" y1="2267" x2="223.7" y2="2285" stroke-width="5.2"/>
<line x1="332.8" y1="2267" x2="332.8" y2="2276.5" stroke-width="5.2"/>
<line x1="441.9" y1="2267" x2="441.9" y2="2285" stroke-width="5.2"/>
<line x1="551" y1="2267" x2="551" y2="2276.5" stroke-width="5.2"/>
<line x1="660.1" y1="2267" x2="660.1" y2="2285" stroke-width="5.2"/>
<line x1="769.2" y1="2267" x2="769.2" y2="2276.5" stroke-width="5.2"/>
<line x1="878.3" y1="2267" x2="878.3" y2="2285" stroke-width="5.2"/>
<line x1="987.5" y1="2267" x2="987.5" y2="2276.5" stroke-width="5.2"/>
<line x1="1096.6" y1="2267" x2="1096.6" y2="2285" stroke-width="5.2"/>
<line x1="1205.7" y1="2267" x2="1205.7" y2="2276.5" stroke-width="5.2"/>
<line x1="1314.8" y1="2267" x2="1314.8" y2="2285" stroke-width="5.2"/>
<line x1="1423.9" y1="2267" x2="1423.9" y2="2276.5" stroke-width="5.2"/>
<line x1="1533" y1="2267" x2="1533" y2="2285" stroke-width="5.2"/>
<line x1="1641.8" y1="2267" x2="1641.8" y2="2276.5" stroke-width="5.2"/>
</g>
<text class="v" transform="translate(233.8 368.7) rotate(-90)" font-size="52" letter-spacing="-0.70">586</text>
<text class="v" transform="translate(508.7 414.9) rotate(-90)" font-size="52" letter-spacing="-0.70">845</text>
<text class="v" transform="translate(658.2 259.7) rotate(-90)" font-size="52" letter-spacing="-0.70">986</text>
<text class="v" transform="translate(735.2 212.6) rotate(-90)" font-size="52" letter-spacing="-0.70" dx="1.7 -1.7 0 0">1054</text>
<text class="v" transform="translate(729.3 539.9) rotate(-90)" font-size="52" letter-spacing="-0.70" dx="1.7 -1.7 0 0">1052</text>
<text class="v" transform="translate(901.9 437.4) rotate(-90)" font-size="52" letter-spacing="-0.70" dx="1.7 -1.7 0 0">1207</text>
<text class="v" transform="translate(918.9 248.4) rotate(-90)" font-size="52" letter-spacing="-0.70" dx="1.7 -1.7 0 0">1223</text>
<text class="v" transform="translate(987.9 222.6) rotate(-90)" font-size="52" letter-spacing="-0.70" dx="1.7 -1.7 0 0">1278</text>
<text class="v" transform="translate(1075.3 233.1) rotate(-90)" font-size="52" letter-spacing="-0.70" dx="1.7 -1.7 0 0">1360</text>
<text class="v" transform="translate(1132.6 585.6) rotate(-90)" font-size="52" letter-spacing="-0.70" dx="1.7 -1.7 0 0">1426</text>
<text class="v" transform="translate(1346.6 456.4) rotate(-90)" font-size="52" letter-spacing="-0.70" dx="1.7 -1.7 0 0">1568</text>
<text class="v" transform="translate(1351.7 185.9) rotate(-90)" font-size="52" letter-spacing="-0.70" dx="1.7 -1.7 0 1.7">1621</text>
<text class="v" transform="translate(1473.7 246.9) rotate(-90)" font-size="52" letter-spacing="-0.70" dx="1.7 -1.7 0 0">1728</text>
<text class="v" transform="translate(1570.5 350.6) rotate(-90)" font-size="52" letter-spacing="-0.70" dx="1.7 -1.7 1.7 -1.7">1810</text>
<text class="v" transform="translate(1463.9 637.9) rotate(-90)" font-size="52" letter-spacing="-0.70" dx="1.7 -1.7 1.7 -1.7">1719</text>
<text class="v" transform="translate(708.4 980.1) rotate(-90)" font-size="52" letter-spacing="-0.70" dx="1.7 -1.7 0 0">1035</text>
<text class="v" transform="translate(906.6 919.6) rotate(-90)" font-size="52" letter-spacing="-0.70" dx="1.7 -1.7 0 0">1208</text>
<text class="v" transform="translate(996.3 913.6) rotate(-90)" font-size="52" letter-spacing="-0.70" dx="1.7 -1.7 0 0">1226</text>
<text class="v" transform="translate(1155.6 948.2) rotate(-90)" font-size="52" letter-spacing="-0.70" dx="1.7 -1.7 0 0">1440</text>
<text class="v" transform="translate(1299.1 908.4) rotate(-90)" font-size="52" letter-spacing="-0.70" dx="1.7 -1.7 0 0">1568</text>
<text class="v" transform="translate(1455.1 1030.6) rotate(-90)" font-size="52" letter-spacing="-0.70" dx="1.7 -1.7 1.7 -1.7">1712</text>
<text class="v" transform="translate(1320.8 1158.9) rotate(-90)" font-size="52" letter-spacing="-0.70" dx="1.7 -1.7 0 0">1577</text>
<text class="v" transform="translate(1372.7 1222.2) rotate(-90)" font-size="52" letter-spacing="-0.70" dx="1.7 -1.7 1.7 -1.7">1619</text>
<text class="v" transform="translate(1423.8 1259.6) rotate(-90)" font-size="52" letter-spacing="-0.70" dx="1.7 -1.7 0 0">1704</text>
<text class="v" transform="translate(1426 1408.1) rotate(-90)" font-size="52" letter-spacing="-0.70" dx="1.7 -1.7 1.7 -1.7">1714</text>
<text class="v" transform="translate(735.2 1693) rotate(-90)" font-size="52" letter-spacing="-0.70" dx="1.7 -1.7 0 0">1055</text>
<text class="v" transform="translate(884 1661.9) rotate(-90)" font-size="52" letter-spacing="-0.70" dx="1.7 0 -1.7 0">1184</text>
<text class="v" transform="translate(1137.8 1682.5) rotate(-90)" font-size="52" letter-spacing="-0.70" dx="1.7 -1.7 0 0">1426</text>
<text class="v" transform="translate(1292.8 1654.9) rotate(-90)" font-size="52" letter-spacing="-0.70" dx="1.7 -1.7 0 0">1566</text>
<text class="v" transform="translate(834.6 1894.6) rotate(-90)" font-size="52" letter-spacing="-0.70" dx="1.7 0 -1.7 0">1158</text>
<text class="v" transform="translate(1367.6 1972.6) rotate(-90)" font-size="52" letter-spacing="-0.70" dx="1.7 -1.7 0 0">1629</text>
<text class="b" x="281.6" y="394.7" font-size="50">GO</text>
<text class="b" x="273.9" y="675.1" font-size="50">GO/T</text>
<text class="b" x="275.3" y="1109.3" font-size="50">GOBA</text>
<text class="b" x="256.1" y="1305.9" font-size="50">GOBA/AA</text>
<text class="b" x="270" y="1414.9" font-size="50">GOBA/G</text>
<text class="b" x="231.9" y="1808.9" font-size="50">GOBA/T</text>
<text class="b" x="214.8" y="2026.4" font-size="50">GOBA/AA/T</text>
<text class="b" x="210.1" y="2199.6" font-size="50">GOBA/G/T</text>
<text class="b" x="190.5" y="117.1" font-size="76.5">(a)</text>
<text class="b" x="203.1" y="887.2" font-size="76.5">(b)</text>
<text class="b" x="193.9" y="1623.1" font-size="76.5">(c)</text>
<text class="k" x="173.7" y="2340.1" font-size="59">600</text>
<text class="k" x="391.9" y="2340.1" font-size="59">800</text>
<text class="k" x="590.5" y="2340.1" font-size="59" dx="1.9 -1.9 0 0">1000</text>
<text class="k" x="808.7" y="2340.1" font-size="59" dx="1.9 -1.9 0 0">1200</text>
<text class="k" x="1026.9" y="2340.1" font-size="59" dx="1.9 -1.9 0 0">1400</text>
<text class="k" x="1245.1" y="2340.1" font-size="59" dx="1.9 -1.9 0 0">1600</text>
<text class="k" x="1463.3" y="2340.1" font-size="59" dx="1.9 -1.9 0 0">1800</text>
<text class="t" transform="translate(80.1 1537.5) rotate(-90)" font-size="67" letter-spacing="-1.34">Normalized Absorbance (a.u.)</text>
<text class="t" x="595.7" y="2437.3" font-size="70.4" letter-spacing="0.33">Wavenumber (cm<tspan x="1150.5" y="2402.5" font-size="38" letter-spacing="1.69" stroke-width="0.2">-1</tspan><tspan x="1194.5" y="2437.3" letter-spacing="0">)</tspan></text>
</svg>
</body></html>
